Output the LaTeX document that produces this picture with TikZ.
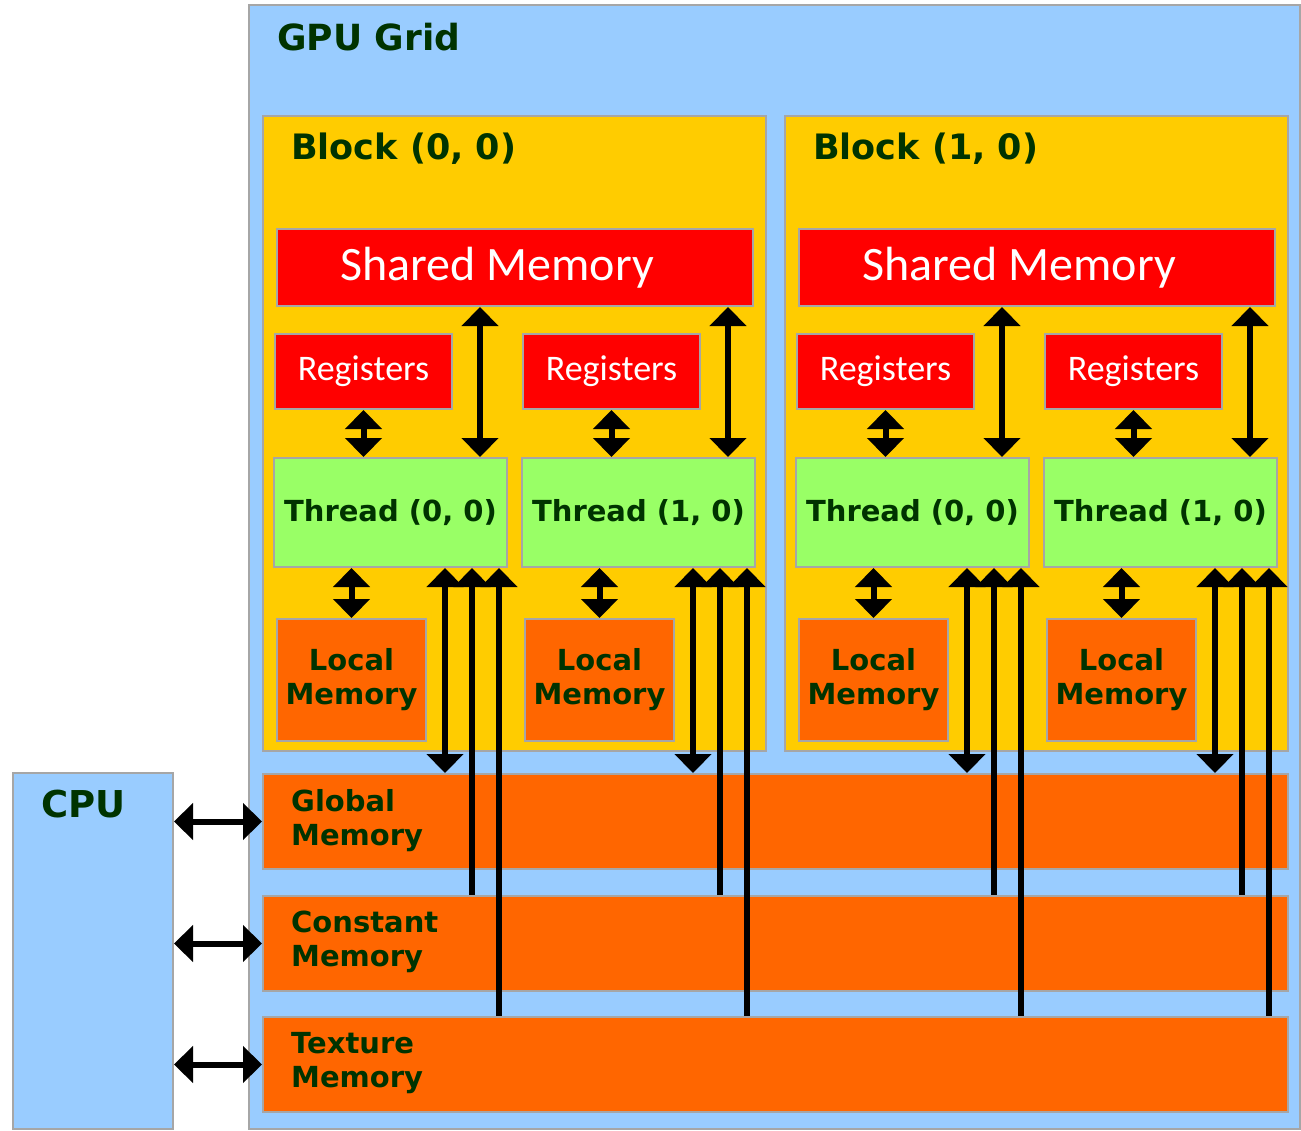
\documentclass[tikz,border=0pt]{standalone}
\usepackage{fontspec}
\setsansfont{DejaVu Sans}
\newfontfamily\calibri{Carlito}
\usetikzlibrary{positioning,arrows.meta}
\definecolor{gridblue}{HTML}{99CCFF}
\definecolor{blockgold}{HTML}{FFCC00}
\definecolor{memred}{HTML}{FF0000}
\definecolor{threadgreen}{HTML}{99FF66}
\definecolor{memorange}{HTML}{FF6600}
\definecolor{labelgreen}{HTML}{003300}
\definecolor{edgegray}{HTML}{A6A6A6}
\tikzset{every picture/.style={/utils/exec={\sffamily\bfseries}}}

\begin{document}
\begin{tikzpicture}[x=1pt, y=-1pt,
  box/.style={draw=edgegray, line width=2pt, anchor=north west, inner sep=0pt},
  title/.style={anchor=north west, inner sep=0pt, text=labelgreen, font=\fontsize{36}{40}\selectfont\sffamily\bfseries},
  memlabel/.style={anchor=north west, inner sep=0pt, align=left, text=labelgreen, font=\fontsize{29}{34}\selectfont\sffamily\bfseries},
  dbl/.style={line width=6pt, {Triangle[width=36pt,length=19pt]}-{Triangle[width=36pt,length=19pt]}},
  up/.style={line width=6pt, {Triangle[width=36pt,length=19pt]}-}]
  \useasboundingbox (0,0) rectangle (1301,1130);

  \node [box, fill=gridblue, minimum width=1051, minimum height=1124] (grid) at (248,4) {};
  \node [title, below right=19pt and 29pt of grid.north west] {GPU Grid};

  \node [box, fill=gridblue, minimum width=160, minimum height=356] (cpu) at (12,772) {};
  \node [title, font=\fontsize{37}{40}\selectfont\sffamily\bfseries, below right=18pt and 29pt of cpu.north west] {CPU};

  \foreach \mem/\y/\first in {gm/773/Global, cm/895/Constant, tm/1016/Texture} {
    \node [box, fill=memorange, minimum width=1025, minimum height=95] (\mem) at (262,\y) {};
    \node [memlabel, below right=16pt and 29pt of \mem.north west] {\first\\Memory};
    \draw [dbl] (cpu.east |- \mem.west) -- (\mem.west);
  }

  \foreach \b/\bx in {0/262, 1/784} {
    \node [box, fill=blockgold, minimum width=503, minimum height=635] (blk\b) at (\bx,115) {};
    \node [title, font=\fontsize{35}{40}\selectfont\sffamily\bfseries, below right=18pt and 29pt of blk\b.north west] {Block (\b, 0)};
    \node [box, fill=memred, minimum width=476, minimum height=77, text=white, font=\fontsize{48}{50}\selectfont\calibri\mdseries] (sm\b) at (\bx+14,228) {Shared Memory\hspace*{36pt}};

    \foreach \t in {0,1} {
      \pgfmathsetmacro\tx{\bx+248*\t}
      \node [box, fill=memred, minimum width=177, minimum height=75, text=white, font=\fontsize{36}{40}\selectfont\calibri\mdseries] (reg\b\t) at (\tx+12,333) {Registers};
      \node [box, fill=threadgreen, minimum width=233, minimum height=109, text=labelgreen, font=\fontsize{29}{34}\selectfont\sffamily\bfseries] (thr\b\t) at (\tx+11,457) {Thread (\t, 0)};
      \node [box, fill=memorange, minimum width=149, minimum height=122, align=center, text=labelgreen, font=\fontsize{29}{34}\selectfont\sffamily\bfseries] (loc\b\t) at (\tx+14,618) {Local\\Memory};

      % thread to its own memories
      \draw [dbl] (reg\b\t.south) -- (reg\b\t.south |- thr\b\t.north);
      \draw [dbl] (thr\b\t.south -| loc\b\t.north) -- (loc\b\t.north);
      \coordinate (s\b\t) at ([xshift=-28pt]thr\b\t.north east);
      \draw [dbl] (s\b\t |- sm\b.south) -- (s\b\t);

      % thread to grid memories
      \coordinate (g\b\t) at ([xshift=-63pt]thr\b\t.south east);
      \coordinate (c\b\t) at ([xshift=-36pt]thr\b\t.south east);
      \coordinate (x\b\t) at ([xshift=-9pt]thr\b\t.south east);
      \draw [dbl] (g\b\t) -- (g\b\t |- gm.north);
      \draw [up] (c\b\t) -- (c\b\t |- cm.north);
      \draw [up] (x\b\t) -- (x\b\t |- tm.north);
    }
  }
\end{tikzpicture}
\end{document}
